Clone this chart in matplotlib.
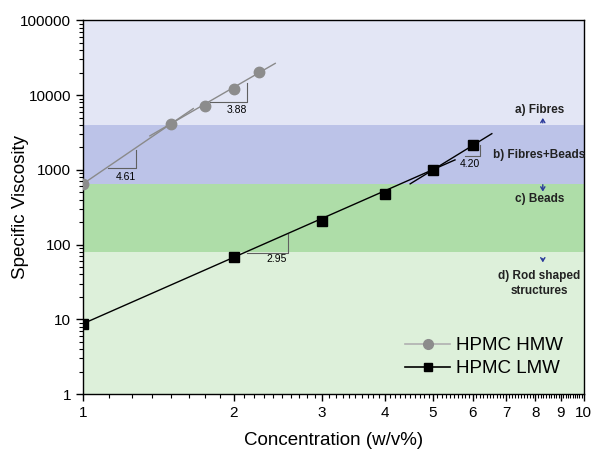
import matplotlib.pyplot as plt
from matplotlib.lines import Line2D
from matplotlib.ticker import FixedLocator, NullFormatter, LogLocator
import numpy as np

plt.rcParams['font.family'] = ['Liberation Sans', 'DejaVu Sans']

# data
hmw_conc = [1.0, 1.5, 1.75, 2.0, 2.25]
hmw_visc = [650, 4160, 7260, 11900, 20100]
lmw_conc = [1.0, 2.0, 3.0, 4.0, 5.0, 6.0]
lmw_visc = [8.75, 68.6, 208, 480, 1006, 2180]

# power-law fit segments (endpoints)
hmw_fit1_x, hmw_fit1_y = [1.0, 1.66], [650, 6600]
hmw_fit2_x, hmw_fit2_y = [1.36, 2.42], [2850, 26600]
lmw_fit1_x, lmw_fit1_y = [1.0, 5.53], [8.75, 1360]
lmw_fit2_x, lmw_fit2_y = [4.50, 6.55], [650, 3050]

# slope triangles: (x0, x1, ybase, ytop, label, label x, label y)
triangles = [
    (1.122, 1.276, 1072, 1866, '4.61', 1.218, 811),
    (1.793, 2.125, 8200, 14750, '3.88', 2.03, 6410),
    (2.13, 2.57, 77.6, 140, '2.95', 2.44, 64.6),
    (5.79, 6.20, 1549, 2180, '4.20', 5.92, 1211),
]

# morphology bands
band_edges = [1, 80, 650, 4000, 100000]
band_colors = ['#ddf0da', '#aedda8', '#bcc3e8', '#e3e6f5']
band_labels = ['a) Fibres', 'b) Fibres+Beads', 'c) Beads', 'd) Rod shaped\nstructures']
band_label_y = [6410, 1600, 411, 30.3]

fig = plt.figure(figsize=(5.97, 4.53), dpi=100)
ax = fig.add_axes([0.139, 0.130, 0.839, 0.825])

for i in range(len(band_colors)):
    ax.axhspan(band_edges[i], band_edges[i + 1], color=band_colors[i], lw=0, zorder=0)

ax.plot(hmw_fit1_x, hmw_fit1_y, color='#8a8a8a', lw=1.0, zorder=2)
ax.plot(hmw_fit2_x, hmw_fit2_y, color='#8a8a8a', lw=1.0, zorder=2)
ax.plot(lmw_fit1_x, lmw_fit1_y, color='black', lw=1.0, zorder=2)
ax.plot(lmw_fit2_x, lmw_fit2_y, color='black', lw=1.0, zorder=2)

ax.plot(hmw_conc, hmw_visc, 'o', color='#8c8c8c', ms=7.5, zorder=3)
ax.plot(lmw_conc, lmw_visc, 's', color='black', ms=6.5, zorder=3)

for x0, x1, yb, yt, lab, lx, ly in triangles:
    ax.plot([x0, x1, x1], [yb, yb, yt], color='#606060', lw=0.8, zorder=2)
    ax.text(lx, ly, lab, fontsize=7.5, ha='center', va='center')

for lab, y in zip(band_labels, band_label_y):
    ax.text(8.15, y, lab, fontsize=8.5, fontweight='bold', ha='center', va='center',
            color='#222222', linespacing=1.3)

arrow_kw = dict(arrowstyle='->,head_length=0.25,head_width=0.15', color='#2b3a9a', lw=1.0)
ax.annotate('', xy=(8.28, 5400), xytext=(8.28, 3900), arrowprops=arrow_kw)
ax.annotate('', xy=(8.28, 470), xytext=(8.28, 690), arrowprops=arrow_kw)
ax.annotate('', xy=(8.28, 53), xytext=(8.28, 71), arrowprops=arrow_kw)

ax.set_xscale('log')
ax.set_yscale('log')
ax.set_xlim(1, 10)
ax.set_ylim(1, 100000)

xmajor = list(range(1, 11))
ax.xaxis.set_major_locator(FixedLocator(xmajor))
ax.set_xticklabels([str(v) for v in xmajor])
xminor = list(np.arange(1.125, 2.0, 0.125)) + [v / 10 for v in range(21, 100) if v % 10]
ax.xaxis.set_minor_locator(FixedLocator(xminor))
ax.xaxis.set_minor_formatter(NullFormatter())

ax.yaxis.set_major_locator(FixedLocator([1, 10, 100, 1000, 10000, 100000]))
ax.set_yticklabels(['1', '10', '100', '1000', '10000', '100000'])
ax.yaxis.set_minor_locator(LogLocator(base=10, subs=np.arange(2, 10)))
ax.yaxis.set_minor_formatter(NullFormatter())

ax.tick_params(which='major', direction='out', length=5, width=1, labelsize=11)
ax.tick_params(which='minor', direction='out', length=3, width=0.8)
for s in ax.spines.values():
    s.set_linewidth(1.0)

ax.set_xlabel('Concentration (w/v%)', fontsize=13.5)
ax.set_ylabel('Specific Viscosity', fontsize=13.5)
ax.xaxis.set_label_coords(0.5, -0.123)
ax.yaxis.set_label_coords(-0.124, 0.5)
ax.xaxis.label.set_va('center')
ax.yaxis.label.set_va('center')

handles = [
    Line2D([], [], color='#b0b0b0', lw=1.2, marker='o', ms=7, mfc='#8c8c8c', mec='#8c8c8c'),
    Line2D([], [], color='black', lw=1.2, marker='s', ms=6, mfc='black', mec='black'),
]
ax.legend(handles, ['HPMC HMW', 'HPMC LMW'], loc='lower right', frameon=False,
          fontsize=13.5, handlelength=2.4, handletextpad=0.3, labelspacing=0.3,
          bbox_to_anchor=(0.992, 0.0))

fig.savefig('out.png', dpi=100)
